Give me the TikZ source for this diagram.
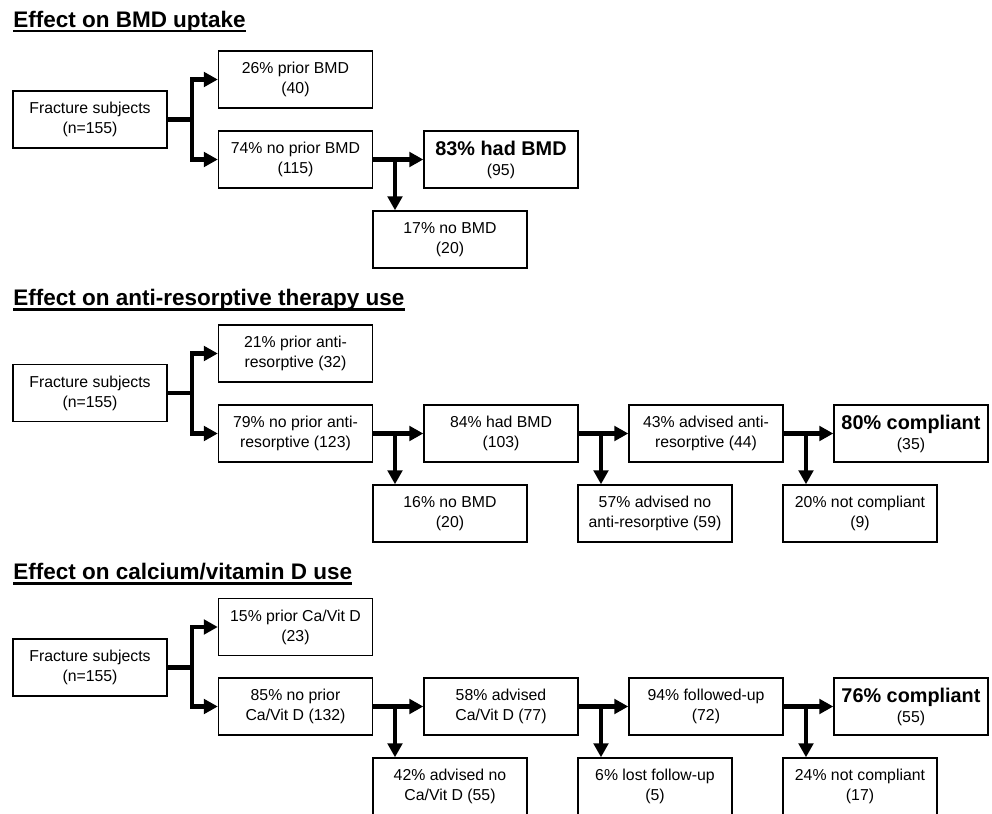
\documentclass[tikz,border=0pt]{standalone}
\usepackage{fontspec}
\setmainfont{Liberation Sans}
\usetikzlibrary{arrows.meta}

\newcommand{\headtext}[1]{{\fontsize{11.3}{13}\selectfont\bfseries #1}}

\begin{document}
\begin{tikzpicture}[
	x=0.02cm, y=-0.02cm,
	box/.style={ draw, line width=0.8pt, minimum width=3.08cm, minimum height=1.14cm, inner sep=0pt, align=center, font=\fontsize{9}{11.4}\selectfont },
	title/.style={ anchor=base west, inner sep=0pt, font=\fontsize{12.8}{15}\selectfont\bfseries },
	uline/.style={ line width=1.6pt },
	stem/.style={ line width=2.6pt },
	arr/.style={ line width=2.6pt, -{Triangle[length=0.28cm,width=0.29cm]} }
]
\useasboundingbox (0,0) rectangle (992,814);

% BMD uptake
\node at (13,27.5) (t1) [title] {Effect on BMD uptake};
\draw[uline] ([yshift=-0.07cm]t1.base west) -- ([yshift=-0.07cm]t1.base east);

\node at (90,119.5) (s1b1) [box] {Fracture subjects\\(n=155)};
\node at (295.5,79.5) (s1b2) [box] {26\% prior BMD\\(40)};
\node at (295.5,159.5) (s1b3) [box] {74\% no prior BMD\\(115)};
\node at (501,159.5) (s1b4) [box] {\headtext{83\% had BMD}\\(95)};
\node at (450,239.5) (s1b5) [box] {17\% no BMD\\(20)};

\coordinate (s1j1) at (192,119.5);
\coordinate (s1j2) at (395,159.5);
\draw[stem] (s1b1) -- (s1j1);
\foreach \p in {s1b2,s1b3} \draw[arr] (s1j1) |- (\p);
\draw[arr] (s1b3) -- (s1b4);
\draw[arr] (s1j2) -- (s1j2 |- s1b5.north);

% anti-resorptive therapy
\node at (13,305.7) (t2) [title] {Effect on anti-resorptive therapy use};
\draw[uline] ([yshift=-0.07cm]t2.base west) -- ([yshift=-0.07cm]t2.base east);

\node at (90,393) (s2b1) [box] {Fracture subjects\\(n=155)};
\node at (295.5,353.5) (s2b2) [box] {21\% prior anti-\\resorptive (32)};
\node at (295.5,433.5) (s2b3) [box] {79\% no prior anti-\\resorptive (123)};
\node at (501,433.5) (s2b4) [box] {84\% had BMD\\(103)};
\node at (450,513.5) (s2b5) [box] {16\% no BMD\\(20)};
\node at (706,433.5) (s2b6) [box] {43\% advised anti-\\resorptive (44)};
\node at (655,513.5) (s2b7) [box] {57\% advised no\\anti-resorptive (59)};
\node at (911,433.5) (s2b8) [box] {\headtext{80\% compliant}\\(35)};
\node at (860,513.5) (s2b9) [box] {20\% not compliant\\(9)};

\coordinate (s2j1) at (192,393);
\coordinate (s2j2) at (395,433.5);
\coordinate (s2j3) at (601,433.5);
\coordinate (s2j4) at (806,433.5);
\draw[stem] (s2b1) -- (s2j1);
\foreach \p in {s2b2,s2b3} \draw[arr] (s2j1) |- (\p);
\foreach \a/\b in {s2b3/s2b4,s2b4/s2b6,s2b6/s2b8} \draw[arr] (\a) -- (\b);
\foreach \j/\b in {s2j2/s2b5,s2j3/s2b7,s2j4/s2b9} \draw[arr] (\j) -- (\j |- \b.north);

% calcium/vitamin D
\node at (13,580) (t3) [title] {Effect on calcium/vitamin D use};
\draw[uline] ([yshift=-0.07cm]t3.base west) -- ([yshift=-0.07cm]t3.base east);

\node at (90,667.5) (s3b1) [box] {Fracture subjects\\(n=155)};
\node at (295.5,627) (s3b2) [box] {15\% prior Ca/Vit D\\(23)};
\node at (295.5,706.5) (s3b3) [box] {85\% no prior\\Ca/Vit D (132)};
\node at (501,706.5) (s3b4) [box] {58\% advised\\Ca/Vit D (77)};
\node at (450,786.5) (s3b5) [box] {42\% advised no\\Ca/Vit D (55)};
\node at (706,706.5) (s3b6) [box] {94\% followed-up\\(72)};
\node at (655,786.5) (s3b7) [box] {6\% lost follow-up\\(5)};
\node at (911,706.5) (s3b8) [box] {\headtext{76\% compliant}\\(55)};
\node at (860,786.5) (s3b9) [box] {24\% not compliant\\(17)};

\coordinate (s3j1) at (192,667.5);
\coordinate (s3j2) at (395,706.5);
\coordinate (s3j3) at (601,706.5);
\coordinate (s3j4) at (806,706.5);
\draw[stem] (s3b1) -- (s3j1);
\foreach \p in {s3b2,s3b3} \draw[arr] (s3j1) |- (\p);
\foreach \a/\b in {s3b3/s3b4,s3b4/s3b6,s3b6/s3b8} \draw[arr] (\a) -- (\b);
\foreach \j/\b in {s3j2/s3b5,s3j3/s3b7,s3j4/s3b9} \draw[arr] (\j) -- (\j |- \b.north);

\end{tikzpicture}
\end{document}
